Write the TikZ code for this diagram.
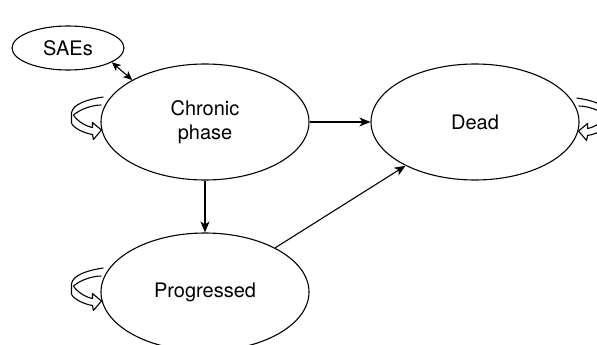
\documentclass[tikz,border=0pt]{standalone}
\usepackage{fontspec}
\setmainfont{TeX Gyre Heros}
\usetikzlibrary{arrows.meta,shapes.geometric}

\begin{document}
\begin{tikzpicture}[x=1pt,y=-1pt,line width=1.1pt,
		stateell/.style={draw,ellipse,inner sep=0pt,minimum width=208pt,minimum height=116pt,
			font=\fontsize{20}{24}\selectfont,align=center},
		flow/.style={-{Stealth[length=11pt,width=9pt,inset=3pt]}},
		twoway/.style={{Stealth[length=9pt,width=8pt,inset=2.5pt]}-{Stealth[length=9pt,width=8pt,inset=2.5pt]}},
		selfloop/.pic={
			\draw[line join=round] (3,-25) .. controls (-12,-23) and (-28,-18) .. (-29,-9) -- (-29,1)
				.. controls (-27,6) and (-17,11) .. (-8,12.5) -- (-7,17.5) -- (1,8) -- (-8,0.5) -- (-8,5.5)
				.. controls (-16,4) and (-24,-2) .. (-27,-7) .. controls (-20,-13) and (-8,-17) .. (1,-17);
		}]
		\useasboundingbox (0,0) rectangle (597,345);
		\clip (0,0) rectangle (597,345);
		\node[stateell,minimum width=112pt,minimum height=44pt] (sae) at (68,48) {SAEs};
		\node[stateell] (chronic) at (205,122) {Chronic\\phase};
		\node[stateell] (dead) at (475,122) {Dead};
		\node[stateell,minimum height=118pt] (prog) at (205,292) {Progressed};
		\draw[flow] (chronic) -- (dead);
		\draw[flow] (chronic) -- (prog);
		\draw[flow] (prog) -- (dead);
		\draw[twoway] (sae.-18) -- (chronic.150);
		% self loops
		\pic at (chronic.west) {selfloop};
		\pic at ([yshift=-1pt]prog.west) {selfloop};
		\pic[xscale=-1] at ([yshift=-1pt]dead.east) {selfloop};
	\end{tikzpicture}
\end{document}
